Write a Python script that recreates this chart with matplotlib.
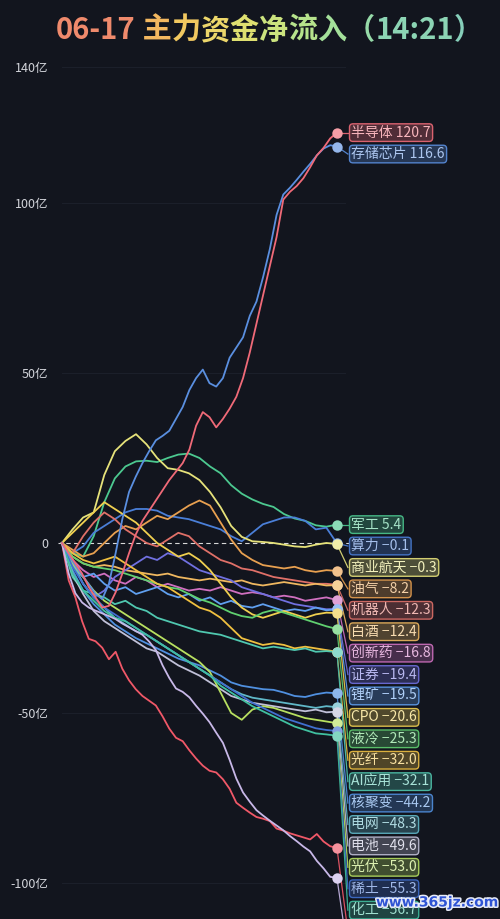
import matplotlib
matplotlib.use("Agg")
import matplotlib.pyplot as plt
import matplotlib.colors as mcolors
import matplotlib.patheffects as pe
import numpy as np

plt.rcParams['font.family'] = ['Noto Sans CJK SC', 'DejaVu Sans']

BG = '#12151e'
END_MINUTE = 201          # 9:30 起算（午休折叠），14:21 = 第 201 分钟

# ── 数据（亿元，主力资金累计净流入）────────────────────────────────────────
semi = [0, -3, -6, -9, -13, -16, -19, -18.5, -14.5, -9, -3, 2.5, 6.5, 9.5,
        12.5, 15.5, 18.5, 21, 23.5, 27.5, 34.5, 38.5, 37, 34, 36.5, 39.5, 43,
        48.5, 56, 64.5, 73, 81.5, 90, 101, 103.3, 105, 107.3, 110.5, 114,
        116.2, 119, 120.7]
storage = [0, -3.5, -6.7, -9.5, -12.2, -15, -16.5, -12, -3, 7, 15, 19.5, 23.5,
           27, 30.2, 31.5, 33, 36.5, 40, 45, 48.5, 51, 47, 46, 48.5, 54.5, 57.5,
           60.5, 66.8, 71, 78.3, 86.5, 96.5, 102.5, 104.5, 106.8, 109.2, 111.5,
           114, 116, 117, 116.6]
junk_red = [0, -11, -16, -23, -28.2, -28.9, -30.8, -34.2, -32, -37, -40.4, -43,
            -45, -46.4, -47.8, -51, -54.6, -57.3, -58.3, -61, -63.4, -65.5, -67,
            -67.5, -69.5, -72.3, -76.4, -77.9, -79.3, -80.6, -81.1, -81.8, -84,
            -84.6, -85.4, -86, -86.6, -87.2, -85.6, -87.8, -89.2, -89.7]
junk_lilac = [0, -9, -14.8, -17.5, -19, -19.9, -20.7, -21.5, -22.4, -23.7,
              -24.8, -25.9, -27, -29, -31.5, -36, -39.7, -42.8, -43.8, -45.4,
              -47.9, -50.2, -52.7, -55.8, -58.8, -63.8, -69.3, -73.4, -76.1,
              -78.6, -80.2, -81.7, -83.1, -84.5, -86.2, -87.7, -89.3, -90.7,
              -93.5, -95.7, -98.2, -98.5]

jungong = [0, -3, -4, 2, 12, 19, 22.5, 24, 24.2, 23.8, 25, 26, 26.3, 25, 22.5,
           20.5, 17, 14.5, 12.8, 11.5, 10.6, 8.5, 7.2, 6.5, 5.2, 4.8, 5.4]
suanli = [0, -3, -1, 3, 5, 7, 9, 10, 10, 9.5, 8, 7.5, 7, 6, 5, 4, 2, 0.5, 3,
          5.5, 6.5, 7.5, 7.5, 6.5, 4, 4.5, -0.1]
hangtian = [0, 4, 7.5, 9, 20, 27, 30, 32, 29, 25, 22, 21.5, 20.5, 18.5, 15,
            10.5, 5, 1.8, 0.5, 0.3, 0, -0.5, -1, -1.2, -0.5, 0, -0.3]
youqi = [0, -2, -4, -3, 0, 3, 5, 4, 6, 8, 7, 9, 11, 12.5, 11, 6, 1, -3, -5,
         -6.5, -7, -7.5, -7, -8, -8.5, -8, -8.2]
jiqiren = [0, -3, 2, 6, 9, 7, 4, 2, 0, -1, 1, 3, 2, -1, -3, -5, -6, -7.5, -8,
           -9, -10, -10.5, -11, -11.5, -12, -12, -12.3]
baijiu = [0, -4, -6, -7, -6.5, -7, -8, -8.5, -9, -9.5, -9, -10, -10.5, -11,
          -10.5, -11, -11.5, -11, -12, -12.5, -12, -11.5, -12, -12.5, -12,
          -12.5, -12.4]
chuangxin = [0, -5, -8, -10, -9, -11, -12, -10, -11, -13, -12, -13, -14, -13.5,
             -14, -13, -14, -15, -14.5, -15, -16, -15.5, -16, -17, -16.5, -16,
             -16.8]
zhengquan = [0, -6, -12, -16, -14, -10, -8, -6, -4, -5, -3, -4, -6, -8, -9,
             -10, -11, -13, -14, -15, -16, -17, -18, -18.5, -19, -19.5, -19.4]
likuang = [0, -7, -10, -9, -12, -14, -13, -15, -14, -13, -15, -16, -15, -17,
           -16, -18, -17, -18.5, -19, -18, -19, -20, -19.5, -20, -19, -19.8,
           -19.5]
cpo = [0, 3, 6, 9, 12, 10, 8, 6, 3, 0, -2, -4, -3, -5, -8, -12, -16, -19, -21,
       -22, -21, -20, -21, -22, -21, -20.5, -20.6]
yeleng = [0, -4, -6, -7, -7.5, -8, -9, -10, -11, -12, -13, -13.5, -15, -16.5,
          -17.5, -19, -20.5, -21.5, -22, -20.5, -19.7, -20.5, -21.5, -22.5,
          -23.5, -24.5, -25.3]
guangxian = [0, -3, -5, -6, -5, -4, -6, -8, -10, -12, -13, -15, -17, -19, -20,
             -22, -25, -28, -29, -30, -29.5, -30, -31, -30.5, -31, -31.5, -32]
ai_app = [0, -10, -14, -15, -16, -18, -17, -19, -20, -22, -23, -24, -25, -26,
          -26.5, -27, -28, -29, -30, -31, -30.5, -31, -31.5, -31, -32, -31.8,
          -32.1]
hejubian = [0, -8, -14, -18, -21, -24, -26, -28, -29.5, -31, -32.5, -34, -35,
            -36, -37.5, -39, -41, -42, -42.5, -43, -43.2, -44, -45, -45.3,
            -44.5, -44, -44.2]
dianwang = [0, -6, -12, -16, -19, -22, -24, -26, -27, -29, -31, -33, -35, -37,
            -39, -41, -43, -44.5, -45.5, -46, -46.5, -47, -47.5, -48, -48.5,
            -48, -48.3]
dianchi = [0, -9, -15, -20, -23, -25, -27, -29, -31, -32, -34, -36, -37.5, -39,
           -41, -43, -45, -46, -47, -47.5, -48, -48.5, -49, -49.5, -49, -49.8,
           -49.6]
guangfu = [0, -6, -10, -14, -17, -19, -21, -23, -25, -27, -29, -31, -33, -35,
           -38, -44, -50, -52, -49, -48, -48.5, -49.5, -50.5, -51.5, -52, -52.5,
           -53]
xitu = [0, -7, -12, -16, -19, -21, -23, -25, -27, -29, -31, -33, -35, -37, -39,
        -41, -43, -45, -47, -48.5, -50, -51.5, -52.5, -53.5, -54.5, -55, -55.3]
huagong = [0, -9, -14, -17, -20, -22, -23, -25, -27, -29, -31, -33, -35, -37,
           -39, -42, -44, -46, -48, -49.5, -51, -52.5, -54, -55, -56, -56.3,
           -56.7]

names = ['军工', '算力', '商业航天', '油气', '机器人', '白酒', '创新药', '证券',
         '锂矿', 'CPO', '液冷', '光纤', 'AI应用', '核聚变', '电网', '电池',
         '光伏', '稀土', '化工', '', '', '存储芯片', '半导体']
series = [jungong, suanli, hangtian, youqi, jiqiren, baijiu, chuangxin,
          zhengquan, likuang, cpo, yeleng, guangxian, ai_app, hejubian,
          dianwang, dianchi, guangfu, xitu, huagong, junk_red, junk_lilac,
          storage, semi]
colors = ['#4cc990', '#4a7fd8', '#e6e27a', '#e8a050', '#e07068', '#f0b860',
          '#d070c0', '#7070e0', '#60a0f0', '#f0d050', '#60d070', '#f0c040',
          '#50c8b0', '#5090e0', '#60b8c8', '#c0c0d8', '#b8e060', '#4070d0',
          '#40c0a0', '#f05868', '#c8b8e8', '#5a8fe0', '#f06a78']

yticks = [140, 100, 50, 0, -50, -100]
ytick_labels = ['140亿', '100亿', '50亿', '0', '-50亿', '-100亿']

title_parts = ['06-17', ' 主', '力', '资', '金', '净', '流', '入', '（',
               '14:21', '）']
title_colors = ['#ef8a6c', '#f3b860', '#f1c860', '#ecd66a', '#dfe070',
                '#cbe37e', '#b6e38c', '#a4e09a', '#96daa8', '#8cd4b4',
                '#86cfba']


def mix(c, other, f):
    a = np.array(mcolors.to_rgb(c))
    b = np.array(mcolors.to_rgb(other))
    return tuple(a * (1 - f) + b * f)


fig = plt.figure(figsize=(5, 9.19), dpi=100, facecolor=BG)
ax = fig.add_axes([0.11, 0.0, 0.89, 1 - 60 / 919])
ax.set_facecolor(BG)
for s in ax.spines.values():
    s.set_visible(False)

ax.set_xlim(-5.1, 320.2)
ax.set_ylim(-110.6, 142.06)
ax.set_xticks([])
ax.set_yticks(yticks)
ax.set_yticklabels(ytick_labels)
ax.tick_params(axis='y', length=0, pad=5, labelsize=9, labelcolor='#d2d4da')
for v in yticks:
    if v != 0:
        ax.plot([0, 207], [v, v], color='#1b1f2a', lw=0.8, zorder=0)
ax.plot([-3, 240], [0, 0], color='#d8d8d8', lw=0.8, ls=(0, (4, 3)), zorder=1)

# ── 折线 + 终点 ────────────────────────────────────────────────────────────
for vals, c in zip(series, colors):
    t = np.linspace(0, END_MINUTE, len(vals))
    ax.plot(t, vals, color=c, lw=1.3, solid_joinstyle='round', zorder=2)

for vals, c in zip(series, colors):
    ax.plot([END_MINUTE], [vals[-1]], 'o', ms=7.5, color=mix(c, 'white', 0.35),
            mec='none', zorder=4)

# ── 标签：按终值排序，向下避让 ───────────────────────────────────────────
order = sorted(range(len(series)), key=lambda i: -series[i][-1])
gap = 6.3
label_x = 211.5
prev = None
for i in order:
    v = series[i][-1]
    lv = v if prev is None else min(v, prev - gap)
    prev = lv
    c = colors[i]
    ax.plot([END_MINUTE, label_x - 2.5], [v, lv], color=mix(c, BG, 0.1),
            lw=0.9, zorder=3, clip_on=False)
    if not names[i]:
        continue
    ax.text(label_x, lv, f"{names[i]} {v:.1f}".replace('-', '−'),
            ha='left', va='center', fontsize=10, color=mix(c, 'white', 0.5),
            zorder=5,
            bbox=dict(boxstyle='round,pad=0.13,rounding_size=0.25',
                      fc=mix(c, BG, 0.72), ec=mix(c, BG, 0.1), lw=1.0))

# ── 标题（逐段渐变色）──────────────────────────────────────────────────
prev_txt = None
for part, c in zip(title_parts, title_colors):
    if prev_txt is None:
        prev_txt = ax.annotate(part, xy=(0.112, 0.951),
                               xycoords='figure fraction', ha='left',
                               va='bottom', fontsize=21, fontweight='bold',
                               color=c, annotation_clip=False)
    else:
        prev_txt = ax.annotate(part, xy=(1, 0), xycoords=prev_txt, ha='left',
                               va='bottom', fontsize=21, fontweight='bold',
                               color=c, annotation_clip=False)

fig.text(0.752, 0.018, 'www.365jz.com', fontsize=10, fontweight='bold',
         color='#2f54d4', ha='left', va='center', family='DejaVu Sans',
         path_effects=[pe.withStroke(linewidth=2.2, foreground='#e8ecf8')],
         zorder=10)

fig.savefig('out.png', dpi=100, facecolor=BG)
